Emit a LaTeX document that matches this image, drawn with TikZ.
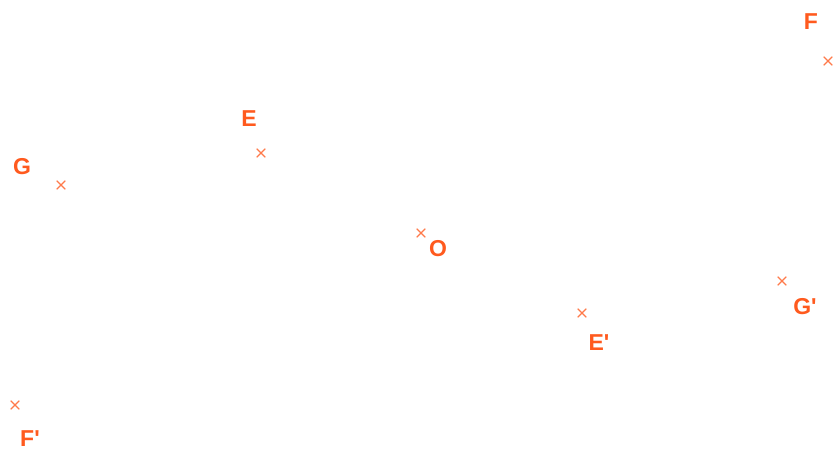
\documentclass[tikz,border=0pt]{standalone}
\usepackage{fontspec}
\setmainfont{Liberation Sans}
\usetikzlibrary{shapes.misc}
\definecolor{lbl}{HTML}{FF5A1E}
\definecolor{crs}{HTML}{FF7A4A}
\begin{document}
\begin{tikzpicture}[x=1pt,y=-1pt,
  pt/.style={cross out,draw=crs,line width=1.1pt,minimum size=7.5pt,inner sep=0pt},
  lab/.style={text=lbl,font=\bfseries\fontsize{23}{23}\selectfont,inner sep=0pt}]
\useasboundingbox (0,0) rectangle (834,451);
\node[pt] (pF) at (828,61) {};
\node[lab] (lF) at (811,22) {F};
\node[pt] (pE) at (261,153) {};
\node[lab] (lE) at (249,119) {E};
\node[pt] (pG) at (61,185) {};
\node[lab] (lG) at (22,167) {G};
\node[pt] (pO) at (421,233) {};
\node[lab] (lO) at (438,249) {O};
\node[pt] (pGp) at (782,281) {};
\node[lab] (lGp) at (805,307) {G\textquotesingle};
\node[pt] (pEp) at (582,313) {};
\node[lab] (lEp) at (599,343) {E\textquotesingle};
\node[pt] (pFp) at (15,405) {};
\node[lab] (lFp) at (30,439) {F\textquotesingle};
\end{tikzpicture}
\end{document}
